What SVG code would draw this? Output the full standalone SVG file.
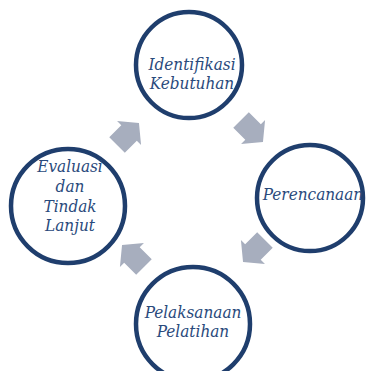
<svg xmlns="http://www.w3.org/2000/svg" width="367" height="371" viewBox="0 0 367 371">
<style>
.c{fill:#fff;stroke:#1f3e6d;stroke-width:4.5}
.t{font-family:"DejaVu Serif Condensed","DejaVu Serif","Liberation Serif",serif;font-style:italic;font-size:17px;fill:#2a4a7c;text-anchor:middle}
.a{fill:#a7aebe}
</style>
<defs>
<path id="arr" d="M-15.5,-11 L1.5,-11 L1.5,-17 L15.5,0 L1.5,17 L1.5,11 L-15.5,11 Z"/>
</defs>
<rect width="367" height="371" fill="#fff"/>
<g id="connectors">
<use href="#arr" class="a" transform="translate(128,134) rotate(-45)"/>
<use href="#arr" class="a" transform="translate(252,131) rotate(45)"/>
<use href="#arr" class="a" transform="translate(254,251) rotate(135)"/>
<use href="#arr" class="a" transform="translate(133,256) rotate(-135)"/>
</g>
<g id="identifikasi">
<circle class="c" cx="189" cy="65" r="53"/>
<text class="t" x="192" y="70">Identifikasi</text>
<text class="t" x="192" y="89">Kebutuhan</text>
</g>
<g id="perencanaan">
<circle class="c" cx="310" cy="198" r="53"/>
<text class="t" x="313" y="200">Perencanaan</text>
</g>
<g id="pelaksanaan">
<circle class="c" cx="193" cy="324" r="57"/>
<text class="t" x="193" y="318">Pelaksanaan</text>
<text class="t" x="193" y="337">Pelatihan</text>
</g>
<g id="evaluasi">
<circle class="c" cx="68" cy="206" r="57"/>
<text class="t" x="70" y="172">Evaluasi</text>
<text class="t" x="70" y="192">dan</text>
<text class="t" x="70" y="212">Tindak</text>
<text class="t" x="70" y="231">Lanjut</text>
</g>
</svg>
